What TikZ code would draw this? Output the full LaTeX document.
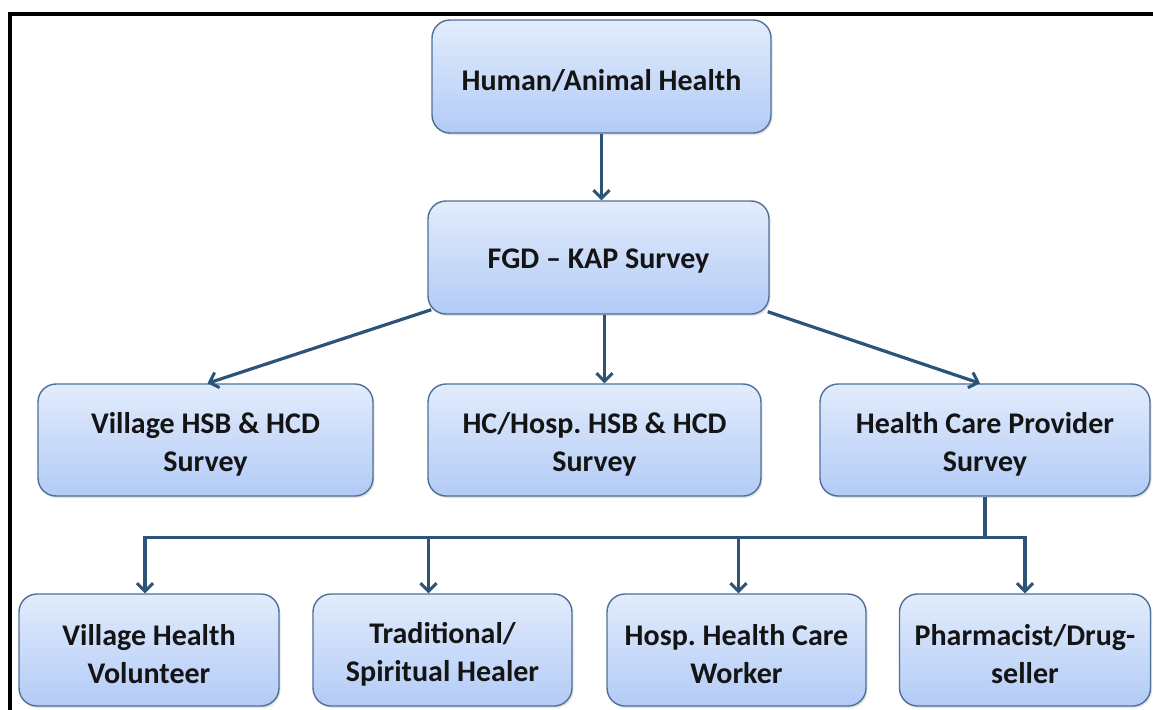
\documentclass[tikz,border=0pt]{standalone}
\usepackage{fontspec}
\setmainfont{Carlito}
\frenchspacing
\usetikzlibrary{arrows.meta,calc,shadows}
\definecolor{boxline}{HTML}{4F7096}
\definecolor{boxtop}{HTML}{E2ECFC}
\definecolor{boxbot}{HTML}{B2CBF6}
\definecolor{arrowc}{HTML}{2C5478}
\tikzset{
  box/.style={draw=boxline, line width=1.4pt, rounded corners=18pt,
    top color=boxtop, bottom color=boxbot,
    drop shadow={opacity=0.22, shadow xshift=1.5pt, shadow yshift=-2pt}},
  txt/.style={label={[align=center, font=\fontsize{30}{38}\selectfont\bfseries\frenchspacing,
    text=black!92, yshift=-4pt]center:#1}},
  arr/.style={draw=arrowc, line width=3.2pt, -{Straight Barb[length=8pt,width=16pt,line width=3pt]}},
  bus/.style={draw=arrowc, line width=3.2pt}
}
\begin{document}
\begin{tikzpicture}[x=1pt,y=-1pt]
\useasboundingbox (0,0) rectangle (1153,709);
\fill[white] (0,0) rectangle (1153,709);
\draw[line width=4pt, line cap=rect] (10,711) -- (10,14) -- (1155,14);

\node[box, minimum width=339pt, minimum height=113pt, txt={Human/Animal Health}] (top) at (601.5,76.5) {};
\node[box, minimum width=341pt, minimum height=113pt, txt={FGD -- KAP Survey}] (fgd) at (598.5,257.5) {};
\node[box, minimum width=335pt, minimum height=112pt, txt={Village HSB \& HCD\\Survey}] (vhsb) at (205.5,440) {};
\node[box, minimum width=333pt, minimum height=112pt, txt={HC/Hosp.\ HSB \& HCD\\Survey}] (hch) at (594.5,440) {};
\node[box, minimum width=330pt, minimum height=112pt, txt={Health Care Provider\\Survey}] (hcp) at (985,440) {};
\node[box, minimum width=260pt, minimum height=112pt, txt={Village Health\\Volunteer}] (vhv) at (149,650) {};
\node[box, minimum width=259pt, minimum height=112pt, txt={Traditional/\\Spiritual Healer}] (trad) at (442.5,650) {};
\node[box, minimum width=259pt, minimum height=112pt, txt={Hosp.\ Health Care\\Worker}] (hosp) at (736.5,650) {};
\node[box, minimum width=251pt, minimum height=112pt, txt={Pharmacist/Drug-\\seller}] (pharm) at (1025,650) {};

\coordinate (ms) at ($(fgd.south)+(6,0)$);
\coordinate (me) at ($(hch.north)+(10,0)$);
\draw[arr] (top.south) -- (top.south |- fgd.north);
\draw[arr] ($(fgd.south west)+(4,-5)$) -- ($(vhsb.north)+(2,0)$);
\draw[arr] (ms) -- (me);
\draw[arr] ($(fgd.south east)+(-2,-3)$) -- ($(hcp.north)+(-5,0)$);

\coordinate (j) at ($(hcp.south)+(0,41)$);
\draw[bus] (hcp.south) -- (j);
\draw[arr] (j) -| ($(vhv.north)+(-4,0)$);
\draw[arr] (j) -| ($(trad.north)+(-14,0)$);
\draw[arr] (j) -| ($(hosp.north)+(2,0)$);
\draw[arr] (j) -| (pharm.north);
\end{tikzpicture}
\end{document}
